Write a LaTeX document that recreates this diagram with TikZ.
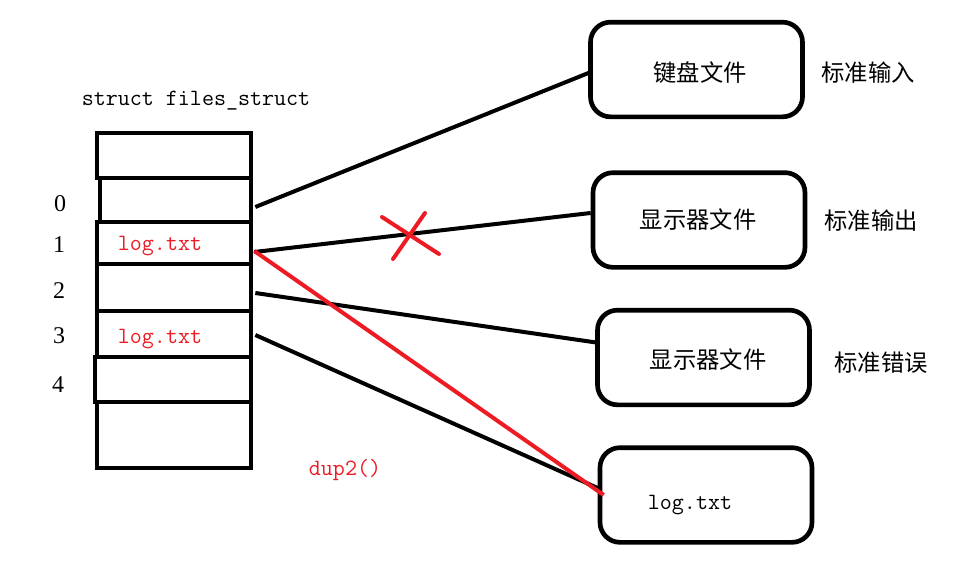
\documentclass[tikz,border=0pt]{standalone}
\usepackage{fontspec}
\newfontfamily\cjk{Noto Sans CJK SC}
\newfontfamily\digits{Liberation Serif}
\usetikzlibrary{positioning,calc}
\definecolor{paintred}{RGB}{237,28,36}
\tikzset{
	cell/.style={draw, line width=3.5pt, minimum width=115.5pt, inner sep=0pt},
	filebox/.style={draw, line width=3.5pt, rounded corners=15pt, minimum width=159pt, minimum height=71pt, inner sep=0pt},
	mono/.style={font=\ttfamily\fontsize{17.5}{20}\selectfont, inner sep=0pt},
	zh/.style={font=\cjk\fontsize{17.5}{20}\selectfont, inner sep=0pt},
	idx/.style={font=\digits\fontsize{18}{20}\selectfont, inner sep=0pt},
	link/.style={line width=3pt},
}

\begin{document}
\begin{tikzpicture}[x=0.75pt, y=-0.75pt]
	\useasboundingbox (0,0) rectangle (957,564);

	% files_struct table
	\node[mono] (title) at (196,101) {struct files\_struct};
	\node[cell, minimum height=33.75pt] (rtop) at (174,155.5) {};
	\node[cell, minimum width=113.25pt, minimum height=33pt] (r0) at (175.5,200) {};
	\node[cell, minimum height=31.5pt] (r1) at (174,243) {};
	\node[cell, minimum height=35.25pt] (r2) at (174,287.5) {};
	\node[cell, minimum height=34.5pt] (r3) at (174,334) {};
	\node[cell, minimum width=117pt, minimum height=33.75pt] (r4) at (173,379.5) {};
	\node[cell, minimum height=49.5pt] (rbot) at (174,435) {};

	\node[idx] (i0) at (60,204) {0};
	\node[idx] (i1) at (59,245) {1};
	\node[idx] (i2) at (59,291) {2};
	\node[idx] (i3) at (59,336) {3};
	\node[idx] (i4) at (58,385) {4};

	\node[mono, text=paintred] (log1) at (160,246) {log.txt};
	\node[mono, text=paintred] (log3) at (160,339) {log.txt};
	\node[mono, text=paintred] (dup) at (345,470) {dup2()};

	% open files
	\node[filebox] (b1) at (696.5,69.5) {};
	\node[filebox] (b2) at (699,220) {};
	\node[filebox] (b3) at (703.5,357.5) {};
	\node[filebox] (b4) at (706,495) {};

	\node[zh] (t1) at (700,73) {键盘文件};
	\node[zh] (t2) at (698,220) {显示器文件};
	\node[zh] (t3) at (708,360) {显示器文件};
	\node[mono] (t4) at (690,505) {log.txt};

	\node[zh] (s1) at (868,73) {标准输入};
	\node[zh] (s2) at (871,221) {标准输出};
	\node[zh] (s3) at (881,363) {标准错误};

	\draw[link] ($(r0.east)+(2,7)$) -- ($(b1.west)+(4,2)$);
	\draw[link] ($(r1.east)+(1,9)$) -- ($(b2.west)+(0,-7)$);
	\draw[link] ($(r2.east)+(2,5.5)$) -- ($(b3.west)+(1,-15)$);
	\draw[link] ($(r3.east)+(2,1)$) -- ($(b4.west)+(0,-7)$);
	\draw[link, paintred] ($(r1.east)+(1,8)$) -- ($(b4.west)+(6,0)$);

	% cross
	\draw[link, paintred, line cap=round] (382,217) -- (439,254);
	\draw[link, paintred, line cap=round] (425,213) -- (393,259);
\end{tikzpicture}
\end{document}
